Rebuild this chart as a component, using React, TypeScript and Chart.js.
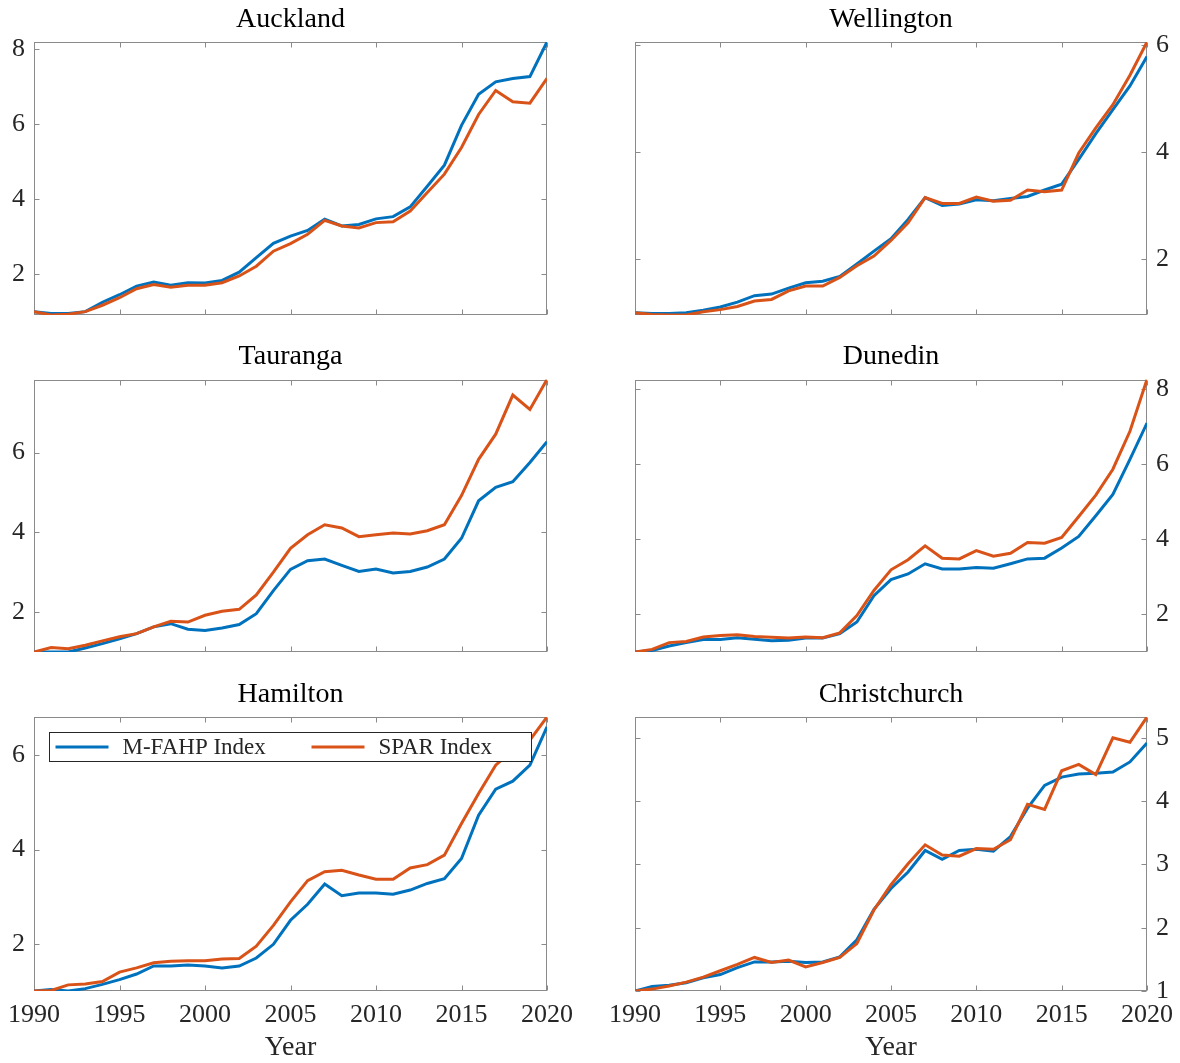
import React, { useEffect, useRef } from 'react';
import { Chart, registerables } from 'chart.js';

Chart.register(...registerables);

const years = [1990, 1991, 1992, 1993, 1994, 1995, 1996, 1997, 1998, 1999, 2000, 2001, 2002, 2003, 2004, 2005, 2006, 2007, 2008, 2009, 2010, 2011, 2012, 2013, 2014, 2015, 2016, 2017, 2018, 2019, 2020];
const xTickYears = [1990, 1995, 2000, 2005, 2010, 2015, 2020];
const seriesLabels = ['M-FAHP Index', 'SPAR Index'];
const xAxisTitle = 'Year';

const aucklandMFAHP = [1.0, 0.95, 0.95, 1.0, 1.25, 1.45, 1.68, 1.79, 1.7, 1.77, 1.76, 1.83, 2.05, 2.44, 2.82, 3.01, 3.16, 3.46, 3.28, 3.32, 3.47, 3.53, 3.79, 4.34, 4.9, 5.96, 6.79, 7.12, 7.21, 7.26, 8.18];
const aucklandSPAR = [1.0, 0.91, 0.93, 1.0, 1.17, 1.37, 1.61, 1.72, 1.65, 1.7, 1.7, 1.77, 1.95, 2.21, 2.61, 2.81, 3.06, 3.43, 3.28, 3.23, 3.37, 3.39, 3.68, 4.17, 4.66, 5.37, 6.25, 6.89, 6.59, 6.55, 7.21];

const wellingtonMFAHP = [1.0, 0.99, 0.99, 1.0, 1.05, 1.11, 1.2, 1.32, 1.35, 1.46, 1.56, 1.59, 1.68, 1.91, 2.15, 2.38, 2.74, 3.15, 3.0, 3.03, 3.11, 3.09, 3.13, 3.17, 3.29, 3.4, 3.86, 4.34, 4.79, 5.23, 5.78];
const wellingtonSPAR = [1.0, 0.97, 0.96, 0.96, 1.02, 1.06, 1.12, 1.22, 1.25, 1.41, 1.5, 1.5, 1.66, 1.88, 2.06, 2.35, 2.68, 3.15, 3.04, 3.04, 3.16, 3.08, 3.1, 3.29, 3.26, 3.29, 3.98, 4.45, 4.88, 5.43, 6.05];

const taurangaMFAHP = [1.0, 1.0, 1.0, 1.1, 1.21, 1.33, 1.46, 1.63, 1.71, 1.57, 1.54, 1.6, 1.69, 1.96, 2.54, 3.07, 3.29, 3.33, 3.17, 3.02, 3.08, 2.98, 3.02, 3.13, 3.33, 3.85, 4.79, 5.13, 5.27, 5.75, 6.27];
const taurangaSPAR = [1.0, 1.11, 1.08, 1.17, 1.28, 1.38, 1.46, 1.63, 1.77, 1.75, 1.92, 2.02, 2.07, 2.43, 3.0, 3.6, 3.94, 4.19, 4.11, 3.89, 3.94, 3.98, 3.96, 4.04, 4.19, 4.92, 5.83, 6.46, 7.44, 7.08, 7.83];

const dunedinMFAHP = [1.0, 1.04, 1.16, 1.25, 1.33, 1.33, 1.38, 1.34, 1.3, 1.31, 1.37, 1.37, 1.49, 1.8, 2.5, 2.93, 3.08, 3.35, 3.21, 3.21, 3.25, 3.23, 3.35, 3.48, 3.5, 3.77, 4.08, 4.63, 5.2, 6.13, 7.1];
const dunedinSPAR = [1.0, 1.07, 1.25, 1.28, 1.4, 1.44, 1.46, 1.41, 1.39, 1.37, 1.4, 1.38, 1.51, 1.97, 2.64, 3.19, 3.46, 3.83, 3.5, 3.48, 3.7, 3.55, 3.63, 3.92, 3.9, 4.05, 4.61, 5.18, 5.87, 6.88, 8.26];

const hamiltonMFAHP = [1.0, 1.03, 1.0, 1.05, 1.14, 1.24, 1.36, 1.53, 1.53, 1.55, 1.53, 1.49, 1.53, 1.7, 1.99, 2.5, 2.84, 3.27, 3.02, 3.08, 3.08, 3.05, 3.14, 3.28, 3.38, 3.81, 4.73, 5.28, 5.45, 5.79, 6.6];
const hamiltonSPAR = [1.0, 1.01, 1.13, 1.15, 1.2, 1.4, 1.49, 1.6, 1.63, 1.64, 1.64, 1.68, 1.69, 1.95, 2.39, 2.89, 3.34, 3.53, 3.56, 3.46, 3.37, 3.37, 3.61, 3.68, 3.88, 4.55, 5.19, 5.79, 6.11, 6.32, 6.81];

const christchurchMFAHP = [1.0, 1.07, 1.09, 1.13, 1.21, 1.26, 1.37, 1.46, 1.46, 1.47, 1.45, 1.46, 1.54, 1.81, 2.29, 2.62, 2.88, 3.22, 3.08, 3.22, 3.24, 3.21, 3.44, 3.89, 4.25, 4.38, 4.43, 4.44, 4.46, 4.62, 4.92];
const christchurchSPAR = [1.0, 1.03, 1.08, 1.14, 1.22, 1.32, 1.42, 1.53, 1.45, 1.49, 1.38, 1.45, 1.53, 1.75, 2.28, 2.68, 3.01, 3.31, 3.15, 3.13, 3.25, 3.24, 3.39, 3.95, 3.87, 4.48, 4.58, 4.42, 5.0, 4.93, 5.33];

const cityTitles = ['Auckland', 'Wellington', 'Tauranga', 'Dunedin', 'Hamilton', 'Christchurch'];
const cityMFAHP = [aucklandMFAHP, wellingtonMFAHP, taurangaMFAHP, dunedinMFAHP, hamiltonMFAHP, christchurchMFAHP];
const citySPAR = [aucklandSPAR, wellingtonSPAR, taurangaSPAR, dunedinSPAR, hamiltonSPAR, christchurchSPAR];
const aucklandTicks = [2, 4, 6, 8];
const wellingtonTicks = [2, 4, 6];
const taurangaTicks = [2, 4, 6];
const dunedinTicks = [2, 4, 6, 8];
const hamiltonTicks = [2, 4, 6];
const christchurchTicks = [1, 2, 3, 4, 5];
const cityYTicks = [aucklandTicks, wellingtonTicks, taurangaTicks, dunedinTicks, hamiltonTicks, christchurchTicks];

const BLUE = '#0072BD';
const ORANGE = '#D95319';
const AXIS = '#8a8a8a';
const TEXT = '#262626';
const FONT = '"Liberation Serif", "Times New Roman", serif';

const framePlugin = {
  id: 'frame',
  beforeDatasetsDraw(chart: any) {
    const { ctx, chartArea: a, scales } = chart;
    const L = Math.round(a.left) + 0.5;
    const R = Math.round(a.right) - 0.5;
    const T = Math.round(a.top) + 0.5;
    const B = Math.round(a.bottom) - 0.5;
    ctx.save();
    ctx.strokeStyle = AXIS;
    ctx.lineWidth = 1;
    ctx.strokeRect(L, T, R - L, B - T);
    const tl = 5;
    ctx.beginPath();
    scales.x.ticks.forEach((t: any) => {
      const px = Math.round(scales.x.getPixelForValue(t.value)) + 0.5;
      ctx.moveTo(px, B);
      ctx.lineTo(px, B - tl);
      ctx.moveTo(px, T);
      ctx.lineTo(px, T + tl);
    });
    scales.y.ticks.forEach((t: any) => {
      const py = Math.round(scales.y.getPixelForValue(t.value)) + 0.5;
      ctx.moveTo(L, py);
      ctx.lineTo(L + tl, py);
      ctx.moveTo(R, py);
      ctx.lineTo(R - tl, py);
    });
    ctx.stroke();
    ctx.restore();
  },
};

const legendPlugin = {
  id: 'insideLegend',
  afterDatasetsDraw(chart: any) {
    const { ctx, chartArea: a } = chart;
    const bx = Math.round(a.left + 15) + 0.5;
    const by = Math.round(a.top + 14.5) + 0.5;
    const bw = 482;
    const bh = 29;
    ctx.save();
    ctx.fillStyle = '#ffffff';
    ctx.fillRect(bx, by, bw, bh);
    ctx.strokeStyle = TEXT;
    ctx.lineWidth = 1;
    ctx.strokeRect(bx, by, bw, bh);
    const offsets = [6, 262];
    const cy = by + bh / 2;
    const items = [chart.data.datasets[0], chart.data.datasets[1]];
    items.forEach((ds: any, i: number) => {
      const x0 = bx + offsets[i];
      ctx.strokeStyle = ds.borderColor;
      ctx.lineWidth = 3;
      ctx.beginPath();
      ctx.moveTo(x0, cy);
      ctx.lineTo(x0 + 53, cy);
      ctx.stroke();
      ctx.fillStyle = TEXT;
      ctx.font = `23px ${FONT}`;
      ctx.textAlign = 'left';
      ctx.textBaseline = 'middle';
      ctx.fillText(ds.label, x0 + 67, cy + 1);
    });
    ctx.restore();
  },
};

const ROW_TOPS = [0, 337, 674];
const ROW_HEIGHTS = [337, 337, 389];
const TOP_PADS = [0, 0.5, 1];
const BOTTOM_PADS = [21, 20.3, 0];

function Panel({ index }: { index: number }) {
  const ref = useRef<HTMLCanvasElement>(null);
  const row = Math.floor(index / 2);
  const col = index % 2;
  const isLeft = col === 0;
  const isBottom = row === 2;
  const width = 590;
  const height = ROW_HEIGHTS[row];

  useEffect(() => {
    const mf = cityMFAHP[index];
    const sp = citySPAR[index];
    const all = [...mf, ...sp];
    const yTicks = cityYTicks[index];
    const chart = new Chart(ref.current as HTMLCanvasElement, {
      type: 'line',
      data: {
        datasets: [
          {
            label: seriesLabels[0],
            data: years.map((x, i) => ({ x, y: mf[i] })),
            borderColor: BLUE,
            backgroundColor: BLUE,
            borderWidth: 3,
            pointRadius: 0,
            tension: 0,
            fill: false,
            order: 1,
          },
          {
            label: seriesLabels[1],
            data: years.map((x, i) => ({ x, y: sp[i] })),
            borderColor: ORANGE,
            backgroundColor: ORANGE,
            borderWidth: 3,
            pointRadius: 0,
            tension: 0,
            fill: false,
            order: 0,
          },
        ],
      },
      options: {
        animation: false,
        responsive: false,
        events: [],
        layout: {
          padding: {
            left: isLeft ? 0 : 45,
            right: isLeft ? 43 : 0,
            top: TOP_PADS[row],
            bottom: BOTTOM_PADS[row],
          },
        },
        plugins: {
          legend: { display: false },
          tooltip: { enabled: false },
          title: {
            display: true,
            text: cityTitles[index],
            fullSize: false,
            color: '#000000',
            font: { family: FONT, size: 28, weight: 'normal', lineHeight: 1 },
            padding: { top: 5.5, bottom: 8.5 },
          },
        },
        scales: {
          x: {
            type: 'linear',
            min: years[0],
            max: years[years.length - 1],
            bounds: 'data',
            grid: { display: false, drawTicks: true, tickLength: 8 },
            border: { display: false },
            afterBuildTicks: (s: any) => {
              s.ticks = xTickYears.map((v) => ({ value: v }));
            },
            ticks: {
              display: isBottom,
              autoSkip: false,
              maxRotation: 0,
              color: TEXT,
              padding: 3,
              font: { family: FONT, size: 26, lineHeight: 1 },
              callback: (v: any) => String(v),
            },
            title: {
              display: isBottom,
              text: xAxisTitle,
              color: TEXT,
              font: { family: FONT, size: 28, lineHeight: 1 },
              padding: { top: 0, bottom: 1 },
            },
            afterFit: (s: any) => {
              s.height = isBottom ? 72 : 0;
            },
          },
          y: {
            type: 'linear',
            position: isLeft ? 'left' : 'right',
            min: Math.min(...all),
            max: Math.max(...all),
            bounds: 'data',
            grid: { display: false, drawTicks: false },
            border: { display: false },
            afterBuildTicks: (s: any) => {
              s.ticks = yTicks.map((v) => ({ value: v }));
            },
            ticks: {
              color: TEXT,
              padding: 9,
              autoSkip: false,
              font: { family: FONT, size: 26, lineHeight: 1 },
              callback: (v: any) => String(v),
            },
            afterFit: (s: any) => {
              s.width = isLeft ? 34 : 33;
            },
          },
        },
      } as any,
      plugins: index === 4 ? [framePlugin, legendPlugin] : [framePlugin],
    });
    return () => chart.destroy();
  }, [index]);

  return (
    <canvas
      ref={ref}
      width={width}
      height={height}
      style={{ position: 'absolute', left: col * 590, top: ROW_TOPS[row], width, height }}
    />
  );
}

export default function App() {
  return (
    <div style={{ position: 'absolute', left: 0, top: 0, width: 1180, height: 1063, background: '#ffffff' }}>
      {cityTitles.map((_, i) => (
        <Panel key={i} index={i} />
      ))}
    </div>
  );
}
